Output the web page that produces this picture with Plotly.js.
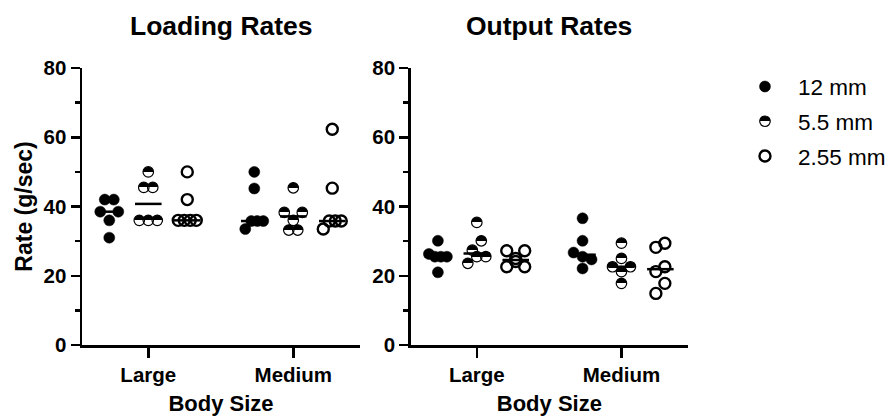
<!DOCTYPE html>
<html>
<head>
<meta charset="utf-8">
<script src="https://cdn.plot.ly/plotly-3.0.1.min.js"></script>
<style>
  html, body { margin: 0; padding: 0; background: #fff; }
  #chart { width: 888px; height: 419px; }
</style>
</head>
<body>
<div id="chart"></div>
<script>
// ---------------- DATA ----------------
const categories = ['Large', 'Medium'];
const seriesNames = ['12 mm', '5.5 mm', '2.55 mm'];
const panelTitles = ['Loading Rates', 'Output Rates'];

// Loading rates (g/sec)
const loadingLarge12   = [42, 42, 38.5, 36, 38.5, 31];
const loadingMedium12  = [50, 45.2, 33.5, 35.8, 35.8, 35.8];
const loadingLarge55   = [50, 45.5, 45.5, 36, 36, 36];
const loadingMedium55  = [45.4, 38.3, 36, 38.3, 33.2, 33.2];
const loadingLarge255  = [50, 42, 36, 36, 36, 36];
const loadingMedium255 = [62.3, 45.3, 33.5, 35.8, 35.8, 35.8];

// Output rates (g/sec)
const outputLarge12   = [30.1, 26.3, 25.5, 25.5, 25.5, 21];
const outputMedium12  = [36.6, 30.1, 26.7, 25.5, 24.7, 22.1];
const outputLarge55   = [35.4, 27.4, 30.1, 23.6, 25.5, 25.5];
const outputMedium55  = [29.4, 22.6, 25, 22.6, 21.2, 17.8];
const outputLarge255  = [27.2, 25, 27.2, 22.6, 24.1, 22.6];
const outputMedium255 = [28.2, 29.4, 21.2, 22.6, 14.9, 17.8];

// ---------------- BUILD ----------------
const panels = [
  { xa: 'x',  ya: 'y',  sets: [[loadingLarge12, loadingMedium12], [loadingLarge55, loadingMedium55], [loadingLarge255, loadingMedium255]] },
  { xa: 'x2', ya: 'y2', sets: [[outputLarge12, outputMedium12], [outputLarge55, outputMedium55], [outputLarge255, outputMedium255]] }
];

const PX_PER_CAT = 145;          // pixel width of one category unit
const GROUP_OFFSET = 39 / PX_PER_CAT;
const ROW_TOL = 3.0;             // values closer than this share a row
const MEDIAN_HALF = 13.3 / PX_PER_CAT;
const FONT = 'Liberation Sans, Arial, Helvetica, sans-serif';

function swarm(values, center) {
  const idx = values.map((v, i) => i).sort((a, b) => values[b] - values[a] || a - b);
  const rows = [];
  let cur = [];
  idx.forEach(i => {
    if (cur.length && values[cur[0]] - values[i] > ROW_TOL) { rows.push(cur); cur = []; }
    cur.push(i);
  });
  if (cur.length) rows.push(cur);
  const xs = new Array(values.length);
  rows.forEach(r => {
    r.sort((a, b) => a - b);
    const n = r.length;
    const sp = n > 1 ? Math.min(9, 18 / (n - 1)) : 0;
    r.forEach((i, k) => { xs[i] = center + (k - (n - 1) / 2) * sp / PX_PER_CAT; });
  });
  return xs;
}

function median(arr) {
  const s = arr.slice().sort((a, b) => a - b);
  const m = Math.floor(s.length / 2);
  return s.length % 2 ? s[m] : (s[m - 1] + s[m]) / 2;
}

const markerStyles = [
  { symbol: 'circle', size: 11, color: '#000', line: { color: '#000', width: 0.5 } },
  { symbol: 'circle', size: 10.5, color: '#fff', line: { color: '#000', width: 1.2 } },
  { symbol: 'circle-open', size: 11, color: '#000', line: { color: '#000', width: 2.4 } }
];

const medianTraces = [];
const pointTraces = [];
panels.forEach((p, pi) => {
  p.sets.forEach((catVals, si) => {
    const offset = (si - 1) * GROUP_OFFSET;
    let xs = [], ys = [], mx = [], my = [];
    catVals.forEach((vals, ci) => {
      const c = ci + offset;
      xs = xs.concat(swarm(vals, c));
      ys = ys.concat(vals);
      const md = median(vals);
      mx.push(c - MEDIAN_HALF, c + MEDIAN_HALF, null);
      my.push(md, md, null);
    });
    medianTraces.push({
      type: 'scatter', mode: 'lines', x: mx, y: my, xaxis: p.xa, yaxis: p.ya,
      line: { color: '#000', width: 2.5 }, showlegend: false, hoverinfo: 'skip'
    });
    pointTraces.push({
      type: 'scatter', mode: 'markers', x: xs, y: ys, xaxis: p.xa, yaxis: p.ya,
      name: seriesNames[si], legendgroup: 'g' + si, showlegend: pi === 0,
      uid: 'p' + pi + 's' + si,
      marker: markerStyles[si], cliponaxis: false
    });
  });
});

const xBase = {
  range: [-0.457, 1.46], tickvals: [0, 1], ticktext: categories,
  ticks: 'outside', ticklen: 10, tickwidth: 2.5, tickcolor: '#000',
  showline: true, linewidth: 2.5, linecolor: '#000', showgrid: false, zeroline: false,
  tickfont: { family: FONT, size: 20.5, color: '#000', weight: 'bold' },
  title: { text: 'Body Size', font: { family: FONT, size: 22, color: '#000', weight: 'bold' }, standoff: 11 },
  automargin: false, fixedrange: true
};
const yBase = {
  range: [0, 80], tickvals: [0, 20, 40, 60, 80],
  ticks: 'outside', ticklen: 9, tickwidth: 2.5, tickcolor: '#000',
  minor: { tickvals: [10, 30, 50, 70], ticks: 'outside', ticklen: 5, tickwidth: 2.5, tickcolor: '#000', showgrid: false },
  showline: true, linewidth: 2.5, linecolor: '#000', showgrid: false, zeroline: false,
  tickfont: { family: FONT, size: 20.5, color: '#000', weight: 'bold' },
  automargin: false, fixedrange: true
};

const layout = {
  width: 888, height: 419,
  margin: { l: 82, r: 200, t: 68, b: 74, autoexpand: false },
  paper_bgcolor: '#fff', plot_bgcolor: '#fff',
  font: { family: FONT, color: '#000' },
  showlegend: true,
  xaxis: Object.assign({}, xBase, { domain: [0, 0.4587], anchor: 'y' }),
  yaxis: Object.assign({}, yBase, { domain: [0, 1], anchor: 'x',
    title: { text: 'Rate (g/sec)', font: { family: FONT, size: 23, color: '#000', weight: 'bold' }, standoff: 5 } }),
  xaxis2: Object.assign({}, xBase, { domain: [0.5424, 1], anchor: 'y2' }),
  yaxis2: Object.assign({}, yBase, { domain: [0, 1], anchor: 'x2' }),
  legend: {
    xref: 'container', yref: 'container',
    x: 0.8243, xanchor: 'left', y: 0.844, yanchor: 'top',
    font: { family: FONT, size: 22.5, color: '#000' },
    itemwidth: 56, tracegroupgap: 2.5, traceorder: 'grouped',
    bgcolor: 'rgba(0,0,0,0)', borderwidth: 0
  },
  annotations: panelTitles.map((t, i) => ({
    text: t, xref: 'paper', yref: 'paper',
    x: i === 0 ? 0.2294 : 0.7712, y: 1.15, xanchor: 'center', yanchor: 'middle',
    showarrow: false, font: { family: FONT, size: 26.5, color: '#000', weight: 'bold' }
  }))
};

const gd = document.getElementById('chart');
Plotly.newPlot(gd, medianTraces.concat(pointTraces), layout, { staticPlot: true, displayModeBar: false })
  .then(() => {
    // half-filled (top black, bottom hollow) markers for the 5.5 mm series
    const NS = 'http://www.w3.org/2000/svg';
    const svg = gd.querySelector('svg.main-svg');
    let defs = svg.querySelector('defs');
    if (!defs) { defs = document.createElementNS(NS, 'defs'); svg.insertBefore(defs, svg.firstChild); }
    const lg = document.createElementNS(NS, 'linearGradient');
    lg.setAttribute('id', 'halfFill');
    lg.setAttribute('x1', '0'); lg.setAttribute('y1', '0');
    lg.setAttribute('x2', '0'); lg.setAttribute('y2', '1');
    [['0', '#000', 1], ['0.5', '#000', 1], ['0.5', '#fff', 0], ['1', '#fff', 0]].forEach(s => {
      const st = document.createElementNS(NS, 'stop');
      st.setAttribute('offset', s[0]);
      st.setAttribute('stop-color', s[1]);
      st.setAttribute('stop-opacity', s[2]);
      lg.appendChild(st);
    });
    defs.appendChild(lg);
    ['p0s1', 'p1s1'].forEach(uid => {
      gd.querySelectorAll('.trace' + uid + ' path.point').forEach(el => {
        el.style.fill = 'url(#halfFill)';
      });
    });
    gd.querySelectorAll('.legend .traces').forEach(el => {
      const d = el.__data__;
      const tr = d && d[0] && d[0].trace;
      const txt = el.querySelector('.legendtext');
      if ((tr && tr.uid === 'p0s1') || (txt && txt.textContent === '5.5 mm')) {
        el.querySelectorAll('.legendpoints path').forEach(pt => { pt.style.fill = 'url(#halfFill)'; });
      }
    });
  });
</script>
</body>
</html>
